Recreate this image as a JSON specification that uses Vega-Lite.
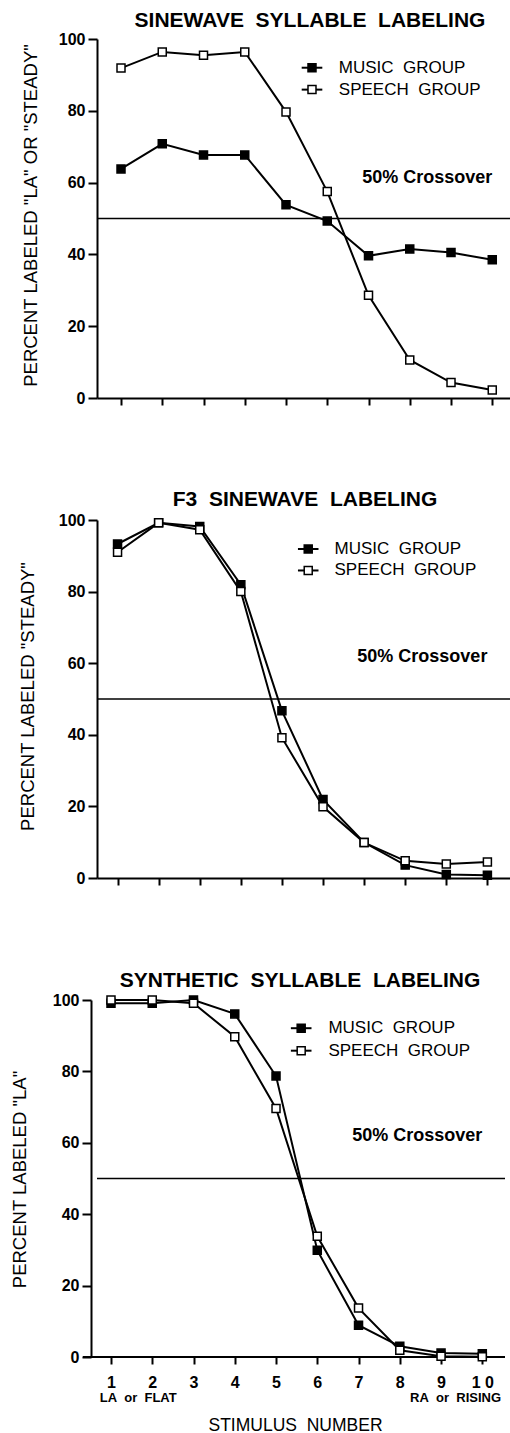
{
  "$schema": "https://vega.github.io/schema/vega-lite/v6.json",
  "padding": {"left": 10, "top": 10, "right": 0, "bottom": 0},
  "background": "white",
  "bounds": "flush",
  "spacing": 122,
  "config": {
    "font": "Liberation Sans",
    "view": {"stroke": null},
    "axis": {"domainColor": "black", "tickColor": "black", "labelColor": "black", "titleColor": "black", "domainWidth": 2, "tickWidth": 2, "grid": false, "labelFont": "Liberation Sans", "titleFont": "Liberation Sans"},
    "title": {"font": "Liberation Sans", "color": "black"}
  },
  "datasets": {
    "sine": [
      {"stimulus": 1, "group": "Music group", "percent": 63.8},
      {"stimulus": 2, "group": "Music group", "percent": 70.8},
      {"stimulus": 3, "group": "Music group", "percent": 67.7},
      {"stimulus": 4, "group": "Music group", "percent": 67.7},
      {"stimulus": 5, "group": "Music group", "percent": 53.8},
      {"stimulus": 6, "group": "Music group", "percent": 49.3},
      {"stimulus": 7, "group": "Music group", "percent": 39.6},
      {"stimulus": 8, "group": "Music group", "percent": 41.5},
      {"stimulus": 9, "group": "Music group", "percent": 40.5},
      {"stimulus": 10, "group": "Music group", "percent": 38.5},
      {"stimulus": 1, "group": "Speech group", "percent": 91.9},
      {"stimulus": 2, "group": "Speech group", "percent": 96.4},
      {"stimulus": 3, "group": "Speech group", "percent": 95.5},
      {"stimulus": 4, "group": "Speech group", "percent": 96.4},
      {"stimulus": 5, "group": "Speech group", "percent": 79.7},
      {"stimulus": 6, "group": "Speech group", "percent": 57.5},
      {"stimulus": 7, "group": "Speech group", "percent": 28.6},
      {"stimulus": 8, "group": "Speech group", "percent": 10.6},
      {"stimulus": 9, "group": "Speech group", "percent": 4.3},
      {"stimulus": 10, "group": "Speech group", "percent": 2.2}
    ],
    "f3": [
      {"stimulus": 1, "group": "Music group", "percent": 93.3},
      {"stimulus": 2, "group": "Music group", "percent": 99.2},
      {"stimulus": 3, "group": "Music group", "percent": 98.2},
      {"stimulus": 4, "group": "Music group", "percent": 81.9},
      {"stimulus": 5, "group": "Music group", "percent": 46.7},
      {"stimulus": 6, "group": "Music group", "percent": 21.9},
      {"stimulus": 7, "group": "Music group", "percent": 9.9},
      {"stimulus": 8, "group": "Music group", "percent": 3.6},
      {"stimulus": 9, "group": "Music group", "percent": 1.0},
      {"stimulus": 10, "group": "Music group", "percent": 0.8},
      {"stimulus": 1, "group": "Speech group", "percent": 91.0},
      {"stimulus": 2, "group": "Speech group", "percent": 99.2},
      {"stimulus": 3, "group": "Speech group", "percent": 97.3},
      {"stimulus": 4, "group": "Speech group", "percent": 80.0},
      {"stimulus": 5, "group": "Speech group", "percent": 39.2},
      {"stimulus": 6, "group": "Speech group", "percent": 19.9},
      {"stimulus": 7, "group": "Speech group", "percent": 9.9},
      {"stimulus": 8, "group": "Speech group", "percent": 4.8},
      {"stimulus": 9, "group": "Speech group", "percent": 3.9},
      {"stimulus": 10, "group": "Speech group", "percent": 4.5}
    ],
    "synth": [
      {"stimulus": 1, "group": "Music group", "percent": 99.1},
      {"stimulus": 2, "group": "Music group", "percent": 99.1},
      {"stimulus": 3, "group": "Music group", "percent": 100},
      {"stimulus": 4, "group": "Music group", "percent": 96.1},
      {"stimulus": 5, "group": "Music group", "percent": 78.7},
      {"stimulus": 6, "group": "Music group", "percent": 29.9},
      {"stimulus": 7, "group": "Music group", "percent": 8.9},
      {"stimulus": 8, "group": "Music group", "percent": 3.0},
      {"stimulus": 9, "group": "Music group", "percent": 1.1},
      {"stimulus": 10, "group": "Music group", "percent": 0.9},
      {"stimulus": 1, "group": "Speech group", "percent": 100},
      {"stimulus": 2, "group": "Speech group", "percent": 100},
      {"stimulus": 3, "group": "Speech group", "percent": 99.1},
      {"stimulus": 4, "group": "Speech group", "percent": 89.7},
      {"stimulus": 5, "group": "Speech group", "percent": 69.6},
      {"stimulus": 6, "group": "Speech group", "percent": 33.8},
      {"stimulus": 7, "group": "Speech group", "percent": 13.7},
      {"stimulus": 8, "group": "Speech group", "percent": 1.9},
      {"stimulus": 9, "group": "Speech group", "percent": 0.2},
      {"stimulus": 10, "group": "Speech group", "percent": 0.1}
    ]
  },
  "vconcat": [
    {
      "width": 413,
      "height": 359,
      "data": {"name": "sine"},
      "title": {"text": "SINEWAVE\u00a0\u00a0SYLLABLE\u00a0\u00a0LABELING", "fontSize": 21, "fontWeight": "bold", "frame": "group", "anchor": "middle", "dx": 6.5, "offset": -17.3, "baseline": "alphabetic"},
      "layer": [
        {"data": {"values": [{}]}, "mark": {"type": "rule", "color": "black", "strokeWidth": 1.5}, "encoding": {"y": {"datum": 50, "type": "quantitative", "title": null}}},
        {
          "mark": {"type": "line", "color": "black", "strokeWidth": 2},
          "encoding": {
            "x": {"field": "stimulus", "type": "quantitative", "scale": {"domain": [0.418, 10.43], "nice": false, "zero": false},
              "axis": {"title": null, "values": [1,2,3,4,5,6,7,8,9,10], "labels": false, "tickSize": 7}},
            "y": {"field": "percent", "type": "quantitative", "scale": {"domain": [0, 100], "nice": false},
              "axis": {"title": "PERCENT LABELED \"LA\" OR \"STEADY\"", "values": [0,10,20,30,40,50,60,70,80,90,100], "labelExpr": "datum.value % 20 === 0 ? datum.label : ''", "tickSize": {"condition": {"test": "datum.value % 20 === 0", "value": 9}, "value": 3}, "labelFontSize": 16, "labelFontWeight": "bold", "labelPadding": 3, "titleFontSize": 18.5, "titleFontWeight": "normal", "titleX": -67, "titleY": 176, "titleAngle": -90, "titleBaseline": "middle", "titleAlign": "center"}},
            "detail": {"field": "group"}
          }
        },
        {
          "mark": {"type": "point", "shape": "square", "filled": true, "size": 64, "stroke": "black", "strokeWidth": 1.5, "opacity": 1},
          "encoding": {
            "x": {"field": "stimulus", "type": "quantitative"},
            "y": {"field": "percent", "type": "quantitative"},
            "fill": {"field": "group", "type": "nominal", "scale": {"domain": ["Music group", "Speech group"], "range": ["black", "white"]}, "legend": null}
          }
        },
        {"data": {"values": [{}]}, "mark": {"type": "rule", "color": "black", "strokeWidth": 2}, "encoding": {"x": {"datum": 5.38, "type": "quantitative", "title": null}, "x2": {"datum": 5.88}, "y": {"datum": 92, "type": "quantitative", "title": null}}},
        {"data": {"values": [{}]}, "mark": {"type": "rule", "color": "black", "strokeWidth": 2}, "encoding": {"x": {"datum": 5.38, "type": "quantitative", "title": null}, "x2": {"datum": 5.88}, "y": {"datum": 85.9, "type": "quantitative", "title": null}}},
        {"data": {"values": [{}]}, "mark": {"type": "point", "shape": "square", "filled": true, "size": 64, "fill": "black", "stroke": "black", "strokeWidth": 1.5, "opacity": 1}, "encoding": {"x": {"datum": 5.63, "type": "quantitative", "title": null}, "y": {"datum": 92, "type": "quantitative", "title": null}}},
        {"data": {"values": [{}]}, "mark": {"type": "point", "shape": "square", "filled": true, "size": 64, "fill": "white", "stroke": "black", "strokeWidth": 1.5, "opacity": 1}, "encoding": {"x": {"datum": 5.63, "type": "quantitative", "title": null}, "y": {"datum": 85.9, "type": "quantitative", "title": null}}},
        {"data": {"values": [{}]}, "mark": {"type": "text", "text": "MUSIC\u00a0\u00a0GROUP", "align": "left", "baseline": "middle", "fontSize": 17, "color": "black"}, "encoding": {"x": {"datum": 6.28, "type": "quantitative", "title": null}, "y": {"datum": 92, "type": "quantitative", "title": null}}},
        {"data": {"values": [{}]}, "mark": {"type": "text", "text": "SPEECH\u00a0\u00a0GROUP", "align": "left", "baseline": "middle", "fontSize": 17, "color": "black"}, "encoding": {"x": {"datum": 6.28, "type": "quantitative", "title": null}, "y": {"datum": 85.9, "type": "quantitative", "title": null}}},
        {"data": {"values": [{}]}, "mark": {"type": "text", "text": "50% Crossover", "align": "right", "baseline": "alphabetic", "fontSize": 18, "fontWeight": "bold", "color": "black"}, "encoding": {"x": {"datum": 10, "type": "quantitative", "title": null}, "y": {"datum": 60, "type": "quantitative", "title": null}}}
      ]
    },
    {
      "width": 413,
      "height": 358,
      "data": {"name": "f3"},
      "title": {"text": "F3\u00a0\u00a0SINEWAVE\u00a0\u00a0LABELING", "fontSize": 21, "fontWeight": "bold", "frame": "group", "anchor": "middle", "dx": 1.5, "offset": -14.6, "baseline": "alphabetic"},
      "layer": [
        {"data": {"values": [{}]}, "mark": {"type": "rule", "color": "black", "strokeWidth": 1.5}, "encoding": {"y": {"datum": 50, "type": "quantitative", "title": null}}},
        {
          "mark": {"type": "line", "color": "black", "strokeWidth": 2},
          "encoding": {
            "x": {"field": "stimulus", "type": "quantitative", "scale": {"domain": [0.5, 10.55], "nice": false, "zero": false},
              "axis": {"title": null, "values": [1,2,3,4,5,6,7,8,9,10], "labels": false, "tickSize": 7}},
            "y": {"field": "percent", "type": "quantitative", "scale": {"domain": [0, 100], "nice": false},
              "axis": {"title": "PERCENT LABELED \"STEADY\"", "values": [0,10,20,30,40,50,60,70,80,90,100], "labelExpr": "datum.value % 20 === 0 ? datum.label : ''", "tickSize": {"condition": {"test": "datum.value % 20 === 0", "value": 9}, "value": 3}, "labelFontSize": 16, "labelFontWeight": "bold", "labelPadding": 3, "titleFontSize": 18.5, "titleFontWeight": "normal", "titleX": -69.5, "titleY": 176, "titleAngle": -90, "titleBaseline": "middle", "titleAlign": "center"}},
            "detail": {"field": "group"}
          }
        },
        {
          "mark": {"type": "point", "shape": "square", "filled": true, "size": 64, "stroke": "black", "strokeWidth": 1.5, "opacity": 1},
          "encoding": {
            "x": {"field": "stimulus", "type": "quantitative"},
            "y": {"field": "percent", "type": "quantitative"},
            "fill": {"field": "group", "type": "nominal", "scale": {"domain": ["Music group", "Speech group"], "range": ["black", "white"]}, "legend": null}
          }
        },
        {"data": {"values": [{}]}, "mark": {"type": "rule", "color": "black", "strokeWidth": 2}, "encoding": {"x": {"datum": 5.39, "type": "quantitative", "title": null}, "x2": {"datum": 5.89}, "y": {"datum": 91.9, "type": "quantitative", "title": null}}},
        {"data": {"values": [{}]}, "mark": {"type": "rule", "color": "black", "strokeWidth": 2}, "encoding": {"x": {"datum": 5.39, "type": "quantitative", "title": null}, "x2": {"datum": 5.89}, "y": {"datum": 85.9, "type": "quantitative", "title": null}}},
        {"data": {"values": [{}]}, "mark": {"type": "point", "shape": "square", "filled": true, "size": 64, "fill": "black", "stroke": "black", "strokeWidth": 1.5, "opacity": 1}, "encoding": {"x": {"datum": 5.64, "type": "quantitative", "title": null}, "y": {"datum": 91.9, "type": "quantitative", "title": null}}},
        {"data": {"values": [{}]}, "mark": {"type": "point", "shape": "square", "filled": true, "size": 64, "fill": "white", "stroke": "black", "strokeWidth": 1.5, "opacity": 1}, "encoding": {"x": {"datum": 5.64, "type": "quantitative", "title": null}, "y": {"datum": 85.9, "type": "quantitative", "title": null}}},
        {"data": {"values": [{}]}, "mark": {"type": "text", "text": "MUSIC\u00a0\u00a0GROUP", "align": "left", "baseline": "middle", "fontSize": 17, "color": "black"}, "encoding": {"x": {"datum": 6.28, "type": "quantitative", "title": null}, "y": {"datum": 91.9, "type": "quantitative", "title": null}}},
        {"data": {"values": [{}]}, "mark": {"type": "text", "text": "SPEECH\u00a0\u00a0GROUP", "align": "left", "baseline": "middle", "fontSize": 17, "color": "black"}, "encoding": {"x": {"datum": 6.28, "type": "quantitative", "title": null}, "y": {"datum": 85.9, "type": "quantitative", "title": null}}},
        {"data": {"values": [{}]}, "mark": {"type": "text", "text": "50% Crossover", "align": "right", "baseline": "alphabetic", "fontSize": 18, "fontWeight": "bold", "color": "black"}, "encoding": {"x": {"datum": 10, "type": "quantitative", "title": null}, "y": {"datum": 60.3, "type": "quantitative", "title": null}}}
      ]
    },
    {
      "width": 408,
      "height": 357,
      "data": {"name": "synth"},
      "title": {"text": "SYNTHETIC\u00a0\u00a0SYLLABLE\u00a0\u00a0LABELING", "fontSize": 21, "fontWeight": "bold", "frame": "group", "anchor": "middle", "dx": -1, "offset": -15.7, "baseline": "alphabetic"},
      "layer": [
        {"data": {"values": [{}]}, "mark": {"type": "rule", "color": "black", "strokeWidth": 1.5}, "encoding": {"y": {"datum": 50, "type": "quantitative", "title": null}}},
        {"data": {"values": [{}]}, "mark": {"type": "rule", "color": "black", "strokeWidth": 2}, "encoding": {"x": {"datum": 0.32, "type": "quantitative", "title": null}, "x2": {"datum": 10.55}, "y": {"datum": 0, "type": "quantitative", "title": null}}},
        {
          "mark": {"type": "line", "color": "black", "strokeWidth": 2},
          "encoding": {
            "x": {"field": "stimulus", "type": "quantitative", "scale": {"domain": [0.661, 10.55], "nice": false, "zero": false},
              "axis": {"title": "STIMULUS\u00a0\u00a0NUMBER", "values": [1,2,3,4,5,6,7,8,9,10], "domain": false, "tickSize": 7, "labelFontSize": 16, "labelFontWeight": "bold", "labelPadding": 10, "labelExpr": "datum.value === 10 ? '1 0' : datum.label", "titleFontSize": 17.5, "titleFontWeight": "normal", "titleX": 198, "titleY": 73, "titleBaseline": "alphabetic", "titleAlign": "center"}},
            "y": {"field": "percent", "type": "quantitative", "scale": {"domain": [0, 100], "nice": false},
              "axis": {"title": "PERCENT LABELED \"LA\"", "offset": 6, "values": [0,10,20,30,40,50,60,70,80,90,100], "labelExpr": "datum.value % 20 === 0 ? datum.label : ''", "tickSize": {"condition": {"test": "datum.value % 20 === 0", "value": 9}, "value": 3}, "labelFontSize": 16, "labelFontWeight": "bold", "labelPadding": 3, "titleFontSize": 18.5, "titleFontWeight": "normal", "titleX": -72, "titleY": 179, "titleAngle": -90, "titleBaseline": "middle", "titleAlign": "center"}},
            "detail": {"field": "group"}
          }
        },
        {
          "mark": {"type": "point", "shape": "square", "filled": true, "size": 64, "stroke": "black", "strokeWidth": 1.5, "opacity": 1},
          "encoding": {
            "x": {"field": "stimulus", "type": "quantitative"},
            "y": {"field": "percent", "type": "quantitative"},
            "fill": {"field": "group", "type": "nominal", "scale": {"domain": ["Music group", "Speech group"], "range": ["black", "white"]}, "legend": null}
          }
        },
        {"data": {"values": [{}]}, "mark": {"type": "rule", "color": "black", "strokeWidth": 2}, "encoding": {"x": {"datum": 5.36, "type": "quantitative", "title": null}, "x2": {"datum": 5.86}, "y": {"datum": 92.1, "type": "quantitative", "title": null}}},
        {"data": {"values": [{}]}, "mark": {"type": "rule", "color": "black", "strokeWidth": 2}, "encoding": {"x": {"datum": 5.36, "type": "quantitative", "title": null}, "x2": {"datum": 5.86}, "y": {"datum": 85.8, "type": "quantitative", "title": null}}},
        {"data": {"values": [{}]}, "mark": {"type": "point", "shape": "square", "filled": true, "size": 64, "fill": "black", "stroke": "black", "strokeWidth": 1.5, "opacity": 1}, "encoding": {"x": {"datum": 5.61, "type": "quantitative", "title": null}, "y": {"datum": 92.1, "type": "quantitative", "title": null}}},
        {"data": {"values": [{}]}, "mark": {"type": "point", "shape": "square", "filled": true, "size": 64, "fill": "white", "stroke": "black", "strokeWidth": 1.5, "opacity": 1}, "encoding": {"x": {"datum": 5.61, "type": "quantitative", "title": null}, "y": {"datum": 85.8, "type": "quantitative", "title": null}}},
        {"data": {"values": [{}]}, "mark": {"type": "text", "text": "MUSIC\u00a0\u00a0GROUP", "align": "left", "baseline": "middle", "fontSize": 17, "color": "black"}, "encoding": {"x": {"datum": 6.27, "type": "quantitative", "title": null}, "y": {"datum": 92.1, "type": "quantitative", "title": null}}},
        {"data": {"values": [{}]}, "mark": {"type": "text", "text": "SPEECH\u00a0\u00a0GROUP", "align": "left", "baseline": "middle", "fontSize": 17, "color": "black"}, "encoding": {"x": {"datum": 6.27, "type": "quantitative", "title": null}, "y": {"datum": 85.8, "type": "quantitative", "title": null}}},
        {"data": {"values": [{}]}, "mark": {"type": "text", "text": "50% Crossover", "align": "right", "baseline": "alphabetic", "fontSize": 18, "fontWeight": "bold", "color": "black"}, "encoding": {"x": {"datum": 10, "type": "quantitative", "title": null}, "y": {"datum": 60.5, "type": "quantitative", "title": null}}},
        {"data": {"values": [{}]}, "mark": {"type": "text", "text": "LA\u00a0\u00a0or\u00a0\u00a0FLAT", "align": "center", "baseline": "alphabetic", "fontSize": 13, "fontWeight": "bold", "color": "black"}, "encoding": {"x": {"datum": 1.66, "type": "quantitative", "title": null}, "y": {"datum": -12.6, "type": "quantitative", "title": null}}},
        {"data": {"values": [{}]}, "mark": {"type": "text", "text": "RA\u00a0\u00a0or\u00a0\u00a0RISING", "align": "left", "baseline": "alphabetic", "fontSize": 13, "fontWeight": "bold", "color": "black"}, "encoding": {"x": {"datum": 8.25, "type": "quantitative", "title": null}, "y": {"datum": -12.6, "type": "quantitative", "title": null}}}
      ]
    }
  ]
}
